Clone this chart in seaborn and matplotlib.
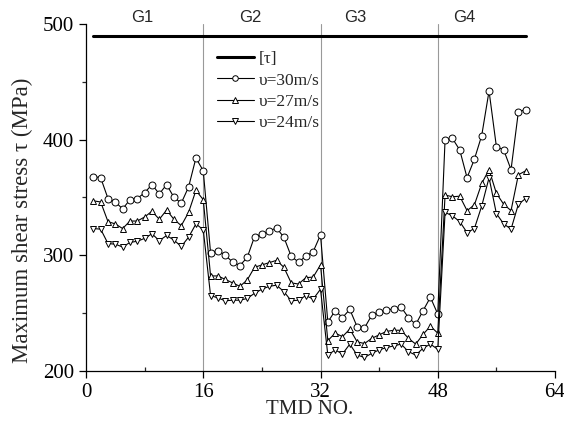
import matplotlib
matplotlib.use("Agg")
import matplotlib.pyplot as plt
import seaborn as sns
import numpy as np
import pandas as pd
from matplotlib.lines import Line2D
from matplotlib.ticker import MultipleLocator

tmd = list(range(1, 61))
v30 = [368, 367, 349, 346, 340, 348, 349, 354, 361, 353, 361, 350, 345, 359, 384, 373,
       302, 304, 300, 294, 291, 298, 316, 318, 321, 323.5, 315.5, 299, 294, 299, 303, 317.5,
       242, 252, 246, 253, 238, 237, 248, 251, 252.5, 253.5, 255, 246, 240, 252, 263.5, 249,
       400, 401, 391, 367, 383, 403.5, 442, 394, 391, 374, 424, 426]
v27 = [347, 346, 329, 327, 323, 329.5, 329.5, 333, 338, 331, 339, 331, 325.5, 337, 356, 348,
       282, 282, 279, 276, 273, 278.5, 289.5, 291.5, 293.5, 295.5, 289.5, 276, 275, 280.5, 281, 291.5,
       226, 232.5, 229.5, 236, 225, 223.5, 228, 231, 234, 235, 235, 228, 223, 231.5, 238.5, 232.5,
       352, 350.5, 351, 338.5, 343.5, 362, 374, 353.5, 344, 338.5, 369.5, 373]
v24 = [323, 322.5, 310, 309.5, 307, 311, 312, 314.5, 318.5, 312.5, 317, 313, 307.5, 315.5, 327, 322,
       265, 263, 260.5, 261, 261, 262.5, 267, 270.5, 273, 274, 268.5, 260.5, 261, 265, 262, 270.5,
       213.5, 218, 214.5, 223, 213.5, 211.5, 215, 218, 220, 221.5, 223, 216.5, 213.5, 219.5, 223, 218.5,
       337, 334, 329, 319.5, 323, 342.5, 367, 336, 327, 322.5, 344, 349]
tau_limit = 490
tau_x = [1, 60]
series_labels = ["\u03c5=30m/s", "\u03c5=27m/s", "\u03c5=24m/s"]
group_labels = ["G1", "G2", "G3", "G4"]
group_pos = [7.7, 22.4, 36.8, 51.6]
group_bounds = [16, 32, 48]

sns.set_style("ticks")
plt.rcParams['font.family'] = ['Liberation Serif', 'DejaVu Serif']
plt.rcParams['mathtext.fontset'] = 'stix'

L, R, B, T = 86, 555, 370.7, 24
W, H = R - L, B - T
fig = plt.figure(figsize=(5.64, 4.26), dpi=100)
ax = fig.add_axes([L/564, 1-B/426, W/564, H/426])

for b in group_bounds:
    ax.axvline(b, color='#999999', lw=0.8, zorder=1)

sns.lineplot(x=tau_x, y=[tau_limit, tau_limit], ax=ax, color='black', lw=2.2, zorder=3)

markers = ['o', '^', 'v']
for vals, m in zip([v30, v27, v24], markers):
    sns.lineplot(x=tmd, y=vals, ax=ax, color='black', lw=0.8, marker=m,
                 markersize=5, markerfacecolor='white', markeredgecolor='black',
                 markeredgewidth=0.7, zorder=4)

ax.set_xlim(0, 64)
ax.set_ylim(200, 500)
ax.xaxis.set_major_locator(MultipleLocator(16))
ax.xaxis.set_minor_locator(MultipleLocator(8))
ax.yaxis.set_major_locator(MultipleLocator(100))
ax.yaxis.set_minor_locator(MultipleLocator(50))
ax.tick_params(axis='both', which='major', labelsize=15, length=5, width=0.9, direction='out', colors='black')
ax.tick_params(axis='x', which='minor', length=3, width=0.9, direction='in')
ax.tick_params(axis='y', which='minor', length=3, width=0.9, direction='out')
sns.despine(ax=ax)
for s in ['left', 'bottom']:
    ax.spines[s].set_linewidth(0.9)
    ax.spines[s].set_color('black')

ax.set_xlabel("TMD NO.", fontsize=15)
ax.xaxis.set_label_coords((310-L)/W, -(410-B)/H)
ax.xaxis.label.set_va('center')
ax.set_ylabel("Maximum shear stress \u03c4 (MPa)", fontsize=16.5)
ax.yaxis.set_label_coords(-(L-22)/W, (B-220)/H)
ax.yaxis.label.set_va('center')

for lab, p in zip(group_labels, group_pos):
    ax.text(p, 506, lab, ha='center', va='center', fontsize=12,
            family=['Liberation Sans', 'DejaVu Sans'], clip_on=False)

handles = [Line2D([], [], color='black', lw=2.2)]
for m in markers:
    handles.append(Line2D([], [], color='black', lw=0.8, marker=m, markersize=4,
                          markerfacecolor='white', markeredgecolor='black', markeredgewidth=0.7))
ax.legend(handles, ["[\u03c4]"] + series_labels, loc='upper left',
          bbox_to_anchor=((216.7-L)/W, 1-(51-T)/H), frameon=False,
          fontsize=12.5, handlelength=2.15, handletextpad=0.3, labelspacing=0.3,
          borderpad=0, borderaxespad=0)

fig.savefig("out.png", dpi=100)
